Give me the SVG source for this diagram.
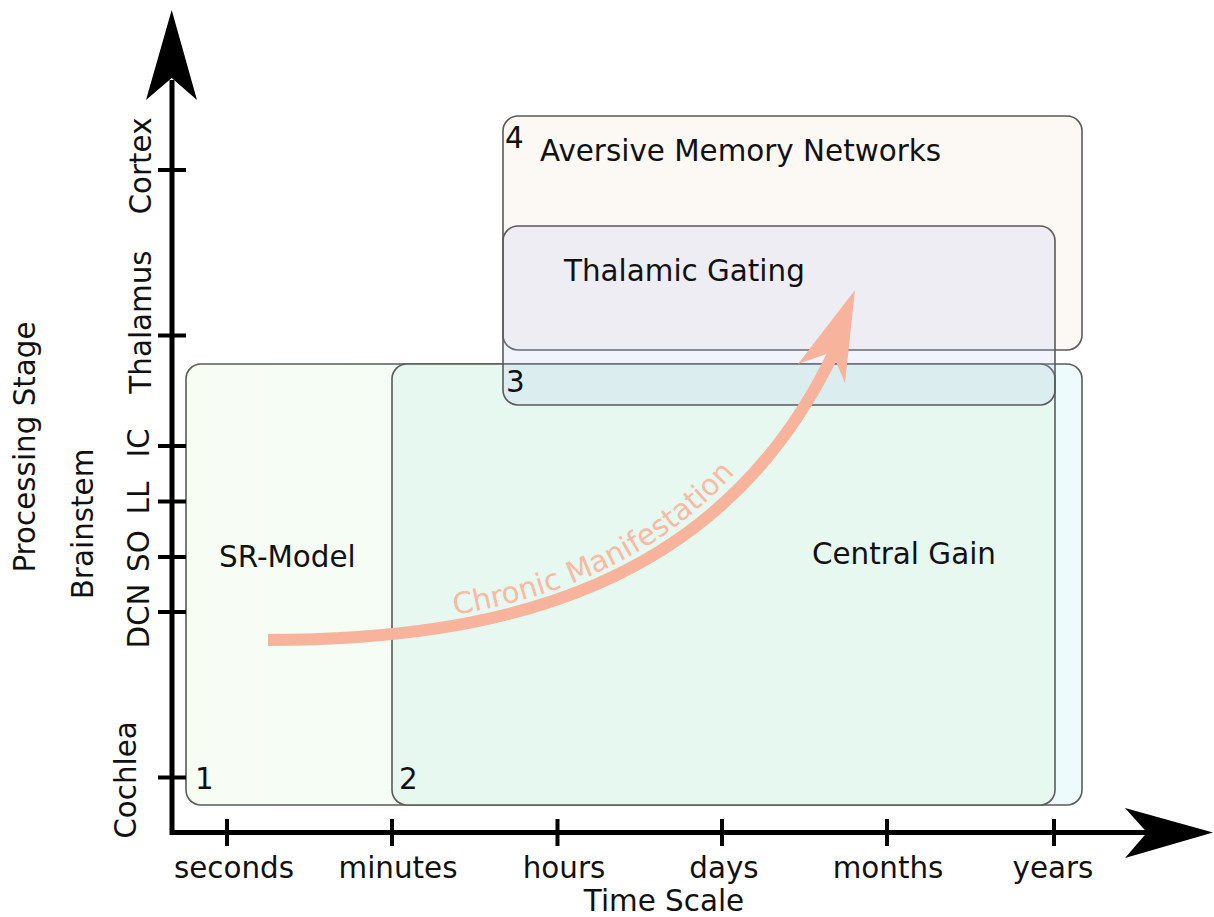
<svg xmlns="http://www.w3.org/2000/svg" width="1214" height="917" viewBox="0 0 1214 917">
  <style>
    .lbl { font-family: "DejaVu Sans", "Noto Sans", sans-serif; font-size: 29.4px; fill: #111; }
    .box { stroke: #5a5a5a; stroke-width: 1.6; }
    .axis { stroke: #000; stroke-width: 5; fill: none; }
    .tick { stroke: #000; stroke-width: 4; }
    .chronic { fill: none; stroke: #f7b39c; stroke-width: 12; }
  </style>
  <defs>
    <linearGradient id="g1" x1="186" y1="0" x2="1082" y2="0" gradientUnits="userSpaceOnUse">
      <stop offset="0" stop-color="#f7fdf3"/>
      <stop offset="1" stop-color="#edfbfc"/>
    </linearGradient>
    <path id="chronicTextPath" d="M 300,626 C 510,626 714,578 824,336"/>
  </defs>

  <g id="box1">
    <rect class="box" x="186" y="364" width="896" height="441" rx="15" fill="url(#g1)"/>
    <text class="lbl" x="195" y="789">1</text>
    <text class="lbl" x="219" y="567">SR-Model</text>
  </g>
  <g id="box2">
    <rect class="box" x="392" y="364" width="663" height="441" rx="15" fill="#e6f8f0"/>
    <text class="lbl" x="399" y="789">2</text>
    <text class="lbl" x="812" y="564">Central Gain</text>
  </g>
  <g id="box4">
    <rect class="box" x="503" y="116" width="579" height="234" rx="15" fill="#fcf8f4"/>
    <text class="lbl" x="505" y="148">4</text>
    <text class="lbl" x="540" y="161">Aversive Memory Networks</text>
  </g>
  <g id="box3">
    <rect class="box" x="503" y="226" width="552" height="179" rx="15" fill="rgb(180,190,245)" fill-opacity="0.18"/>
    <text class="lbl" x="506" y="392">3</text>
    <text class="lbl" x="564" y="281">Thalamic Gating</text>
  </g>

  <g id="chronic">
    <path class="chronic" d="M 268,640 C 500,640 722,588 834,352"/>
    <polygon points="855,290 798,364 832,352 845,383" fill="#f7b39c"/>
    <text font-family="DejaVu Sans, sans-serif" font-size="29.4" fill="#f9b9a2"><textPath href="#chronicTextPath" startOffset="155">Chronic Manifestation</textPath></text>
  </g>

  <g id="axes">
    <path class="axis" d="M 172,80 L 172,832.5 L 1148,832.5"/>
    <polygon points="171.7,10 197,100 171.7,78 146,100" fill="#000"/>
    <polygon points="1213,832.5 1125,808 1147,832.5 1125,858" fill="#000"/>
    <g class="tick">
      <line x1="158" y1="170" x2="186" y2="170"/>
      <line x1="158" y1="335.5" x2="186" y2="335.5"/>
      <line x1="158" y1="446" x2="186" y2="446"/>
      <line x1="158" y1="501.5" x2="186" y2="501.5"/>
      <line x1="158" y1="557" x2="186" y2="557"/>
      <line x1="158" y1="612" x2="186" y2="612"/>
      <line x1="158" y1="777.5" x2="186" y2="777.5"/>
      <line x1="227" y1="819" x2="227" y2="846"/>
      <line x1="392" y1="819" x2="392" y2="846"/>
      <line x1="557.5" y1="819" x2="557.5" y2="846"/>
      <line x1="722" y1="819" x2="722" y2="846"/>
      <line x1="887" y1="819" x2="887" y2="846"/>
      <line x1="1054" y1="819" x2="1054" y2="846"/>
    </g>
  </g>

  <g id="x-labels" class="lbl" text-anchor="middle">
    <text x="234" y="878">seconds</text>
    <text x="398" y="878">minutes</text>
    <text x="564" y="878">hours</text>
    <text x="724" y="878">days</text>
    <text x="888" y="878">months</text>
    <text x="1053" y="878">years</text>
    <text x="664" y="911">Time Scale</text>
  </g>

  <g id="y-labels" class="lbl" text-anchor="middle">
    <text transform="translate(151,166) rotate(-90)">Cortex</text>
    <text transform="translate(151,322) rotate(-90)">Thalamus</text>
    <text transform="translate(149,443) rotate(-90)">IC</text>
    <text transform="translate(149,498) rotate(-90)">LL</text>
    <text transform="translate(149,551) rotate(-90)">SO</text>
    <text transform="translate(149,616) rotate(-90)">DCN</text>
    <text transform="translate(136,780) rotate(-90)">Cochlea</text>
    <text transform="translate(93,524) rotate(-90)">Brainstem</text>
    <text transform="translate(35,447) rotate(-90)">Processing Stage</text>
  </g>
</svg>
